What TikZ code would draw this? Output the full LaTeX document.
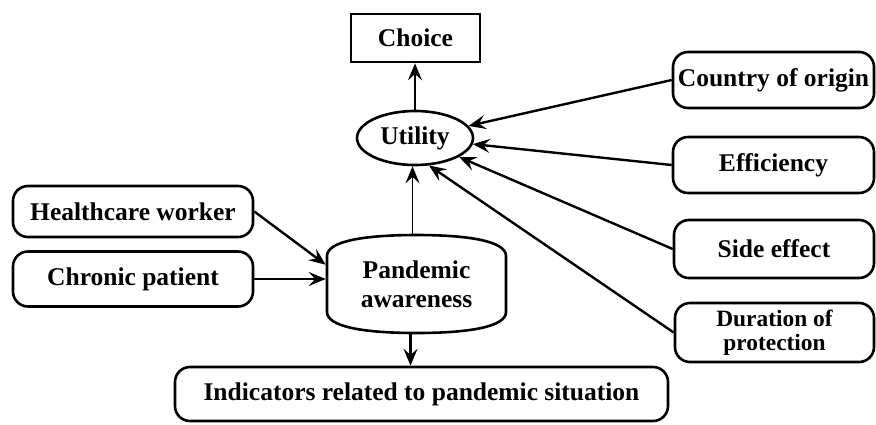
\documentclass[tikz,border=0pt]{standalone}
\usepackage{fontspec}
\setmainfont{Liberation Serif}
\usetikzlibrary{shapes.geometric,arrows.meta}
\begin{document}
\begin{tikzpicture}[x=0.5pt,y=-0.5pt,
  base/.style={draw,line width=1.3pt,align=center,inner sep=0pt,
    font=\fontsize{12.75}{14.5}\selectfont\bfseries},
  rbox/.style={base,rounded corners=7.5pt},
  outline/.style={line width=1.3pt},
  arr/.style={line width=1.2pt,-{Stealth[length=8.5pt,width=7pt,inset=3.2pt]}}]
\useasboundingbox (0,0) rectangle (876,424);
\node[base,minimum width=64.5pt,minimum height=24pt] (choice) at (415.5,38) {Choice};
\node[base,ellipse,minimum width=58pt,minimum height=27pt] (u) at (415,138) {Utility};
\node[base,draw=none,minimum width=89.5pt,minimum height=49pt] (pa) at (416.5,284) {Pandemic\\awareness};
\draw[outline] (327,256) -- (327,312)
  .. controls (327,327) and (365,333) .. (416.5,333)
  .. controls (468,333) and (506,327) .. (506,312)
  -- (506,256)
  .. controls (506,241) and (468,235) .. (416.5,235)
  .. controls (365,235) and (327,241) .. (327,256) -- cycle;
\node[rbox,minimum width=120pt,minimum height=25.5pt] (hw) at (133,211.5) {Healthcare worker};
\node[rbox,minimum width=120pt,minimum height=27.5pt] (cp) at (133,279) {Chronic patient};
\node[rbox,minimum width=246.5pt,minimum height=27pt] (ind) at (421.5,394) {Indicators related to pandemic situation};
\node[rbox,minimum width=100.5pt,minimum height=28pt] (co) at (773.5,80) {Country of origin};
\node[rbox,minimum width=100.5pt,minimum height=28pt] (ef) at (773.5,165) {Efficiency};
\node[rbox,minimum width=100pt,minimum height=29pt] (se) at (774,249) {Side effect};
\node[rbox,minimum width=99.5pt,minimum height=29.5pt,font=\fontsize{11.7}{12}\selectfont\bfseries] (dp) at (774.5,332.5) {Duration of\\protection};
\draw[arr] (u.north) -- (u.north |- choice.south);
\draw[arr,line width=0.8pt] ([xshift=-2pt]pa.north) -- ([xshift=-2pt]pa.north |- u.south);
\draw[arr] ([xshift=-3pt]pa.south) -- ([xshift=-3pt]pa.south |- ind.north);
\draw[arr] (hw.east) -- (pa.168);
\draw[arr] (cp.east) -- (cp.east -| pa.west);
\draw[arr] (co.west) -- (u);
\draw[arr] (ef.west) -- (u);
\draw[arr] (se.west) -- (u);
\draw[arr] (dp.west) -- (u.-63);
\end{tikzpicture}
\end{document}
